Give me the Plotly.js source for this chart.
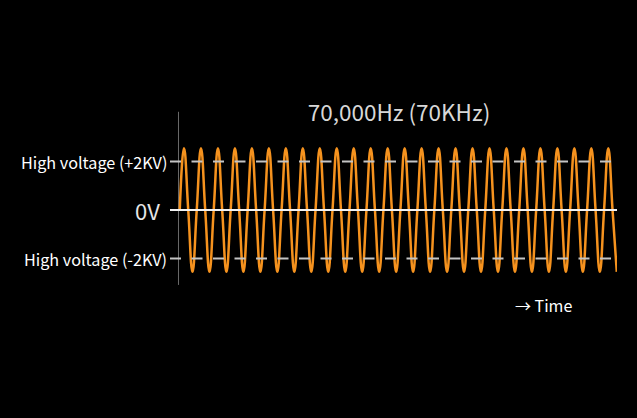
<!DOCTYPE html>
<html>
<head>
<meta charset="utf-8">
<script src="https://cdn.plot.ly/plotly-3.0.1.min.js"></script>
<style>html,body{margin:0;padding:0;background:#000;}#chart{width:637px;height:418px;}</style>
</head>
<body>
<div id="chart"></div>
<script>
// --- data (KV), sampled every quarter period of the 70 kHz wave ---
const peaks = [2.55,2.55,2.55,2.55,2.55,2.55,2.55,2.55,2.55,2.55,2.55,2.55,2.55,
               2.55,2.55,2.55,2.55,2.55,2.55,2.55,2.55,2.55,2.55,2.55,2.55,2.55];
const troughs = [-2.55,-2.55,-2.55,-2.55,-2.55,-2.55,-2.55,-2.55,-2.55,-2.55,-2.55,-2.55,-2.55,
                 -2.55,-2.55,-2.55,-2.55,-2.55,-2.55,-2.55,-2.55,-2.55,-2.55,-2.55,-2.55,-2.55];
const levelValues = [2, 0, -2];
const levelLabels = ['High voltage (+2KV)', '0V', 'High voltage (-2KV)'];
const titleText = '70,000Hz (70KHz)';
const timeLabel = '→ Time';

// build the wave table: zero, peak, zero, trough for each cycle
const waveX = [], waveY = [];
for (let i = 0; i < peaks.length; i++) {
  const seq = [0, peaks[i], 0, troughs[i]];
  for (let k = 0; k < 4; k++) { waveX.push(waveX.length); waveY.push(seq[k]); }
}

const xRange = [-2.3, 103.05];
const yRange = [-4.124, 4.124];
const FONT = '"Noto Sans CJK JP", "Noto Sans", sans-serif';

const traces = [
  { x: [-0.3, -0.3], y: [4.05, -3.09], mode: 'lines',
    line: { color: '#6a6a6a', width: 1 }, hoverinfo: 'skip', showlegend: false },
  { x: waveX, y: waveY, mode: 'lines',
    line: { color: '#f5921e', width: 2.5, shape: 'spline', smoothing: 1.3 },
    hoverinfo: 'skip', showlegend: false }
];
levelValues.forEach(v => {
  traces.push({
    x: xRange, y: [v, v], mode: 'lines',
    line: v === 0 ? { color: '#f2f2f2', width: 2 }
                  : { color: '#c4c4c4', width: 2, dash: '11px,10.5px' },
    hoverinfo: 'skip', showlegend: false
  });
});

const annotations = levelValues.map((v, i) => ({
  xref: 'paper', yref: 'y', x: ((v === 0 ? 162 : 169) - 170) / 447, y: v,
  xanchor: 'right', yanchor: 'middle',
  text: levelLabels[i], showarrow: false,
  font: v === 0 ? { family: FONT, size: 22, color: '#e6e6e6' }
                : { family: FONT, size: 16.2, color: '#ffffff' }
}));
annotations.push({
  xref: 'paper', yref: 'paper', x: (543 - 170) / 447, y: (310 - 305) / 200,
  xanchor: 'center', yanchor: 'middle', text: timeLabel, showarrow: false,
  font: { family: FONT, size: 16, color: '#ffffff' }
});

const layout = {
  width: 637, height: 418,
  paper_bgcolor: '#000', plot_bgcolor: '#000',
  margin: { l: 170, r: 20, t: 110, b: 108 },
  title: { text: titleText, x: 399 / 637, xanchor: 'center', xref: 'container',
           y: 1 - 113 / 418, yanchor: 'middle', yref: 'container',
           font: { family: FONT, size: 22.5, color: '#d8d8d8' } },
  xaxis: { range: xRange, visible: false, fixedrange: true },
  yaxis: { range: yRange, visible: false, fixedrange: true },
  annotations: annotations,
  showlegend: false
};

Plotly.newPlot('chart', traces, layout, { displayModeBar: false, staticPlot: true });
</script>
</body>
</html>
